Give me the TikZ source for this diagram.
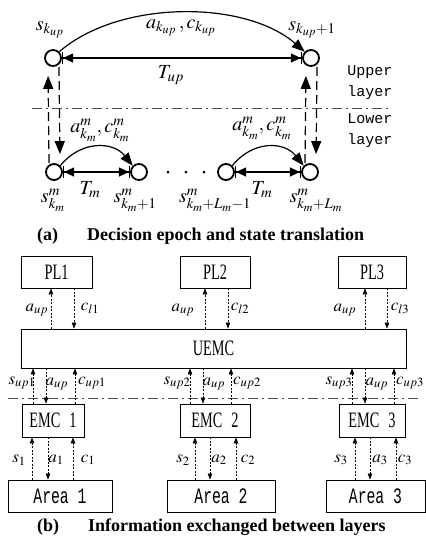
\documentclass[tikz,border=0pt]{standalone}
\usepackage{mathptmx}
\usepackage[no-math]{fontspec}
\setmainfont{Liberation Serif}
\setmonofont{Liberation Mono}
\newfontfamily\boxfont[FakeStretch=0.65]{Liberation Serif}
\newfontfamily\areafont[FakeStretch=0.67]{Liberation Mono}
\usetikzlibrary{arrows.meta}

\begin{document}
\begin{tikzpicture}[
  x=1pt, y=-1pt,
  >=Stealth,
  state/.style={circle, draw, line width=1.8pt, minimum size=16pt, inner sep=0pt},
  lab/.style={inner sep=0pt, font=\fontsize{20}{22}\selectfont},
  blab/.style={inner sep=0pt, font=\fontsize{17}{18}\selectfont},
  big/.style={line width=1.2pt, -{Triangle[length=13pt,width=10pt]}},
  vdash/.style={big, dash pattern=on 9pt off 5pt},
  span/.style={line width=1.2pt, {Bar[width=12pt]Triangle[length=10pt,width=9pt]}-{Triangle[length=10pt,width=9pt]Bar[width=12pt]}},
  layerline/.style={line width=1pt, draw=black!70, dash pattern=on 10pt off 4pt on 2pt off 4pt},
  box/.style={draw, line width=0.8pt, inner sep=0pt, font=\boxfont\fontsize{22}{22}\selectfont},
  areabox/.style={box, font=\areafont\fontsize{22}{22}\selectfont},
  msg/.style={line width=0.6pt, dash pattern=on 2pt off 1.5pt, -{Triangle[length=6pt,width=4.5pt]}},
  capt/.style={anchor=west, inner sep=0pt, font=\bfseries\fontsize{18}{20}\selectfont},
  layertext/.style={align=left, inner sep=0pt, font=\ttfamily\fontsize{15}{21}\selectfont}
]
\useasboundingbox (0,0) rectangle (426,539);

% (a) upper layer states
\node[state] (uL) at (53,58) {};
\node[state] (uR) at (311,58) {};
\node[lab] (suL) at (50,30) {$s_{k_{up}}$};
\node[lab] (suR) at (312,30) {$s_{k_{up}+1}$};
\node[lab] (acu) at (181,28) {$a_{k_{up}}\,,c_{k_{up}}$};
\node[lab] (Tup) at (171,75) {$T_{up}$};
\draw[big] (uL.45) .. controls +(60,-52) and +(-60,-52) .. (uR.135);
\draw[span] (uL.east) -- (uR.west);

% lower layer states
\foreach \n/\x in {A/54,B/139,C/226,D/310}
  \node[state] (l\n) at (\x,172) {};
\foreach \x in {168,186,204}
  \fill (\x,172) circle (1.5pt);
\node[lab] (slA) at (53,200) {$s^m_{k_m}$};
\node[lab] (slB) at (135,200) {$s^m_{k_m+1}$};
\node[lab] (slC) at (215,200) {$s^m_{k_m+L_m-1}$};
\node[lab] (slD) at (316,200) {$s^m_{k_m+L_m}$};
\node[lab] (acA) at (100,130) {$a^m_{k_m},c^m_{k_m}$};
\node[lab] (acC) at (262,128) {$a^m_{k_m},c^m_{k_m}$};
\node[lab] (TmA) at (90,190) {$T_m$};
\node[lab] (TmC) at (262,190) {$T_m$};
\draw[big] (lA.45) .. controls +(20,-25) and +(-20,-25) .. (lB.135);
\draw[big] (lC.45) .. controls +(20,-25) and +(-20,-25) .. (lD.135);
\draw[span] (lA.east) -- (lB.west);
\draw[span] (lC.east) -- (lD.west);

% between the layers
\draw[vdash, shorten >=9pt] ([xshift=-5pt]lA.north) -- ([xshift=-5pt]uL.south);
\draw[vdash, shorten >=9pt] ([xshift=6pt]uL.south) -- ([xshift=6pt]lA.north);
\draw[vdash, shorten >=9pt] ([xshift=-5pt]lD.north) -- ([xshift=-5pt]uR.south);
\draw[vdash, shorten >=9pt] ([xshift=6pt]uR.south) -- ([xshift=6pt]lD.north);
\draw[layerline] (32,108) -- (388,108);
\node[layertext] (upper) at (370,83) {Upper\\layer};
\node[layertext] (lower) at (370,131) {Lower\\layer};

\node[capt] (capa) at (37,236) {(a)\hspace{29pt}Decision epoch and state translation};

% (b) boxes
\node[box, minimum width=71pt, minimum height=32pt] (pl1) at (56.5,272) {PL1};
\node[box, minimum width=70pt, minimum height=32pt] (pl2) at (215,272) {PL2};
\node[box, minimum width=68pt, minimum height=32pt] (pl3) at (372,272) {PL3};
\node[box, minimum width=385pt, minimum height=39pt] (uemc) at (213.5,348.5) {UEMC};
\node[box, minimum width=62pt, minimum height=33pt] (emc1) at (53,420.5) {EMC\hspace{9pt}1};
\node[box, minimum width=70pt, minimum height=33pt] (emc2) at (215,420.5) {EMC\hspace{9pt}2};
\node[box, minimum width=66pt, minimum height=33pt] (emc3) at (372,420.5) {EMC\hspace{9pt}3};
\node[areabox, minimum width=104pt, minimum height=32pt] (area1) at (60,496) {Area 1};
\node[areabox, minimum width=108pt, minimum height=32pt] (area2) at (221,496) {Area 2};
\node[areabox, minimum width=99pt, minimum height=32pt] (area3) at (375.5,496) {Area 3};

% PL <-> UEMC
\foreach \i/\ua/\dc/\ax/\cx in {1/51/74/37/90, 2/205/228/183/240, 3/365/387/345/400} {
  \draw[msg] (\ua,0 |- uemc.north) -- (\ua,0 |- pl\i.south);
  \draw[msg] (\dc,0 |- pl\i.south) -- (\dc,0 |- uemc.north);
  \node[blab] (aup\i) at (\ax,310) {$a_{up}$};
  \node[blab] (cl\i) at (\cx,308) {$c_{l\i}$};
}

% UEMC <-> EMC
\draw[layerline] (8,398) -- (420,398);
\foreach \i/\sx/\ax/\cx/\sl/\al/\cl in {1/33/46/75/22/57/92, 2/190/203/231/177/214/247, 3/352/365/394/339/377/410} {
  \draw[msg] (\sx,0 |- emc\i.north) -- (\sx,0 |- uemc.south);
  \draw[msg] (\ax,0 |- uemc.south) -- (\ax,0 |- emc\i.north);
  \draw[msg] (\cx,0 |- emc\i.north) -- (\cx,0 |- uemc.south);
  \node[blab] (sup\i) at (\sl,383) {$s_{up\i}$};
  \node[blab] (aeu\i) at (\al,384) {$a_{up}$};
  \node[blab] (cup\i) at (\cl,383) {$c_{up\i}$};
}

% EMC <-> Area
\foreach \i/\sx/\ax/\cx/\sl/\al/\cl in {1/32/48/73/19/56/88, 2/195/210/236/183/219/248, 3/355/370/396/341/380/405} {
  \draw[msg] (\sx,0 |- area\i.north) -- (\sx,0 |- emc\i.south);
  \draw[msg] (\ax,0 |- emc\i.south) -- (\ax,0 |- area\i.north);
  \draw[msg] (\cx,0 |- area\i.north) -- (\cx,0 |- emc\i.south);
  \node[blab] (s\i) at (\sl,460) {$s_\i$};
  \node[blab] (a\i) at (\al,460) {$a_\i$};
  \node[blab] (c\i) at (\cl,460) {$c_\i$};
}

\node[capt] (capb) at (37,527) {(b)\hspace{29pt}Information exchanged between layers};
\end{tikzpicture}
\end{document}
